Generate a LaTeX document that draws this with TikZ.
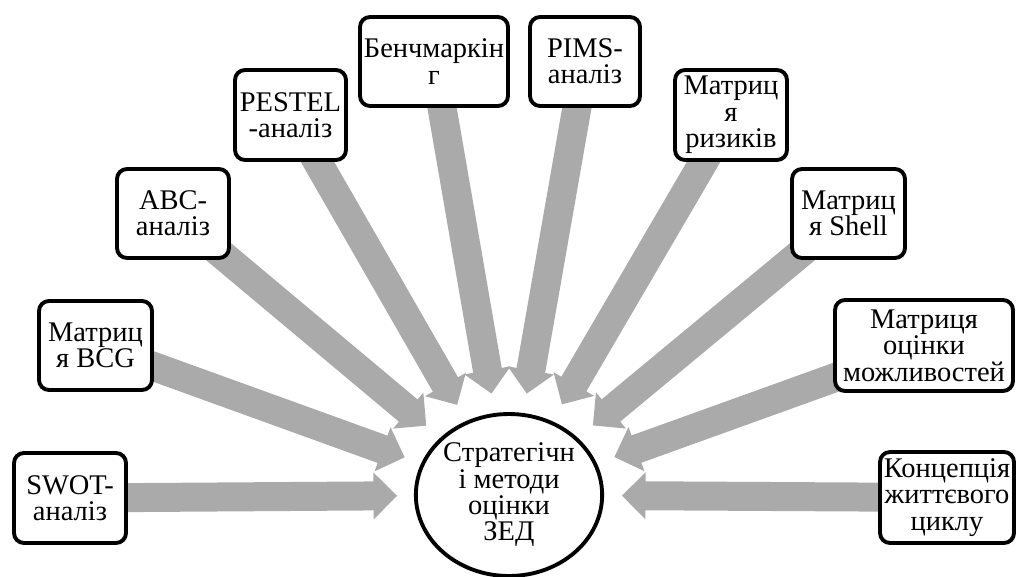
\documentclass[tikz,border=0pt]{standalone}
\usepackage{fontspec}
\setmainfont{Liberation Serif}
\usetikzlibrary{calc,shapes.geometric,backgrounds}

\definecolor{arrowgray}{HTML}{AAAAAA}

\tikzset{
  labelfont/.style={font=\rmfamily\fontsize{16.2pt}{15pt}\selectfont},
  method/.style={draw=black, line width=2.2pt, rounded corners=0.2cm,
    fill=white, inner sep=0pt, align=center, labelfont},
  hub/.style={ellipse, draw=black, line width=2.2pt, fill=white,
    inner sep=0pt, align=center, minimum width=3.68cm, minimum height=3.24cm,
    labelfont},
  shaft/.style={draw=arrowgray, line width=0.58cm},
  head/.style={fill=arrowgray}
}

% thick grey block arrow from a method box towards the hub
\newcommand\blockarrow[2]{%
  \coordinate (tip) at ($(hubnode.center)!#2cm!(#1.center)$);
  \coordinate (hb) at ($(tip)!0.47cm!(#1.center)$);
  \coordinate (hs) at ($(tip)!0.43cm!(#1.center)$);
  \draw[shaft] (#1.center) -- (hs);
  \fill[head] (tip) -- ($(hb)!0.47cm!90:(tip)$) -- ($(hb)!0.47cm!-90:(tip)$) -- cycle;
}

\begin{document}
\begin{tikzpicture}[x=0.02cm, y=-0.02cm]
  \path[use as bounding box] (0,0) rectangle (1016,577);

  % hub and method boxes
  \path
    (509,495)    node[hub]    (hubnode) {Стратегічн\\і методи\\оцінки\\ЗЕД}
    (70,498)     node[method, minimum width=2.24cm, minimum height=1.80cm] (swot)   {SWOT-\\аналіз}
    (95.5,345.5) node[method, minimum width=2.26cm, minimum height=1.78cm] (bcg)    {Матриц\\я BCG}
    (173,213.5)  node[method, minimum width=2.24cm, minimum height=1.78cm] (abc)    {ABC-\\аналіз}
    (290.5,115)  node[method, minimum width=2.22cm, minimum height=1.80cm] (pestel) {PESTEL\\-аналіз}
    (434,61.5)   node[method, minimum width=2.96cm, minimum height=1.78cm] (bench)  {Бенчмаркін\\г}
    (585,61.5)   node[method, minimum width=2.20cm, minimum height=1.78cm] (pims)   {PIMS-\\аналіз}
    (731,115)    node[method, minimum width=2.24cm, minimum height=1.80cm] (risk)   {Матриц\\я\\ризиків}
    (848.5,213.5) node[method, minimum width=2.26cm, minimum height=1.78cm] (shell) {Матриц\\я Shell}
    (924,345.5)  node[method, minimum width=3.56cm, minimum height=1.82cm] (opp)    {Матриця\\оцінки\\можливостей}
    (947,497.5)  node[method, minimum width=2.68cm, minimum height=1.82cm] (life)   {Концепція\\життєвого\\циклу};

  % arrows, underneath the boxes
  \begin{scope}[on background layer]
    \blockarrow{swot}{2.24}
    \blockarrow{bcg}{2.22}
    \blockarrow{abc}{2.16}
    \blockarrow{pestel}{2.08}
    \blockarrow{bench}{2.06}
    \blockarrow{pims}{2.06}
    \blockarrow{risk}{2.10}
    \blockarrow{shell}{2.18}
    \blockarrow{opp}{2.24}
    \blockarrow{life}{2.26}
  \end{scope}
\end{tikzpicture}
\end{document}
